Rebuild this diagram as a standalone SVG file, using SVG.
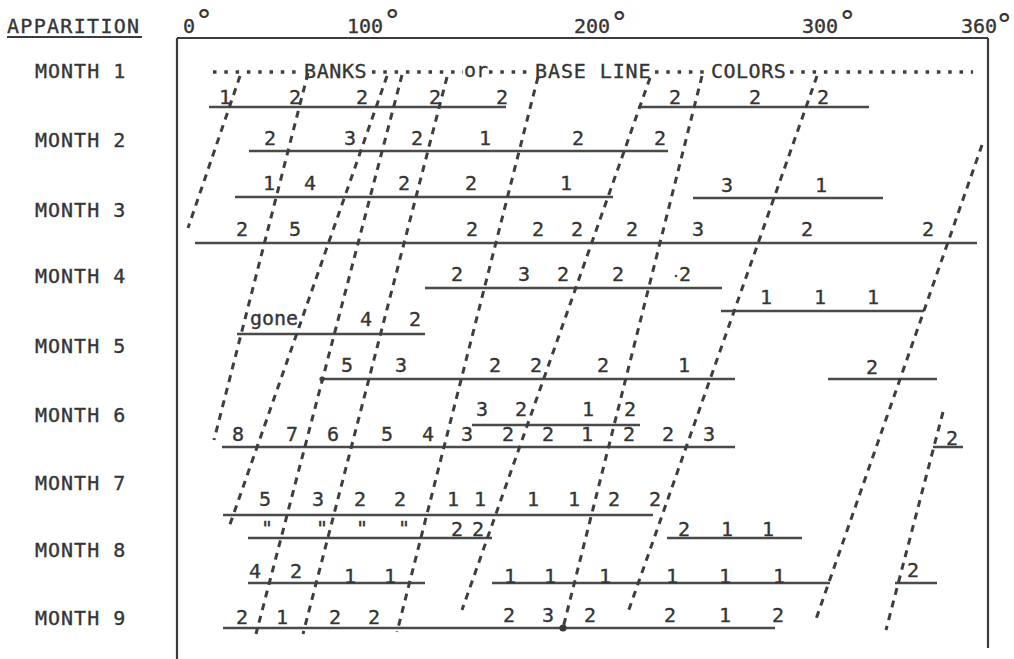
<svg xmlns="http://www.w3.org/2000/svg" width="1014" height="659" viewBox="0 0 1014 659">
<style>
text{font-family:"DejaVu Sans Mono","Liberation Mono",monospace;fill:#353535;font-size:20px;stroke:#353535;stroke-width:0.35px}
.m{letter-spacing:1px}
.c{text-anchor:middle}
.row{stroke:#4a4a4a;stroke-width:2.5;fill:none}
.frame{stroke:#3c3c3c;stroke-width:2.2;fill:none}
.dash{stroke:#3e3e3e;stroke-width:3;stroke-dasharray:7 6;fill:none}
.dot{stroke:#3e3e3e;stroke-width:3.5;stroke-dasharray:3.5 7.8;fill:none}
.deg{font-size:30px;stroke-width:0.2px}
</style>
<rect width="1014" height="659" fill="#ffffff"/>
<g id="frame">
<path class="frame" d="M177 38H988M177 38V659M988 38V648"/>
</g>
<g id="header">
<text x="7" y="33" style="letter-spacing:1.3px">APPARITION</text>
<path class="frame" d="M7 37H142"/>
<text x="183" y="33">0<tspan class="deg" dy="-2">°</tspan></text>
<text x="347" y="33">100<tspan class="deg" dy="-2">°</tspan></text>
<text x="574" y="33">200<tspan class="deg" dy="0">°</tspan></text>
<text x="802" y="33">300<tspan class="deg" dy="-1">°</tspan></text>
<text x="961" y="33">360<tspan class="deg" dy="2" dx="-2">°</tspan></text>
</g>
<g id="months">
<text class="m" x="35" y="78">MONTH 1</text>
<text class="m" x="35" y="147">MONTH 2</text>
<text class="m" x="35" y="217">MONTH 3</text>
<text class="m" x="35" y="283">MONTH 4</text>
<text class="m" x="35" y="353">MONTH 5</text>
<text class="m" x="35" y="422">MONTH 6</text>
<text class="m" x="35" y="490">MONTH 7</text>
<text class="m" x="35" y="557">MONTH 8</text>
<text class="m" x="35" y="625">MONTH 9</text>
</g>
<g id="baseline">
<path class="dot" d="M213 72H300M372 72H463M489 72H531M655 72H707M790 72H973"/>
<text x="304" y="78" style="letter-spacing:0.6px">BANKS</text>
<text class="c" x="476" y="77">or</text>
<text x="535" y="78" style="letter-spacing:0.9px">BASE LINE</text>
<text x="711" y="78" style="letter-spacing:0.5px">COLORS</text>
</g>
<g id="month1">
<path class="row" d="M209 107H506M638 107H869"/>
<text class="c" x="225" y="104">1</text><text class="c" x="295" y="104">2</text><text class="c" x="362" y="104">2</text><text class="c" x="435" y="104">2</text><text class="c" x="502" y="104">2</text>
<text class="c" x="675" y="104">2</text><text class="c" x="755" y="104">2</text><text class="c" x="823" y="104">2</text>
</g>
<g id="month2">
<path class="row" d="M249 151H668"/>
<text class="c" x="270" y="145">2</text><text class="c" x="350" y="145">3</text><text class="c" x="417" y="145">2</text><text class="c" x="485" y="145">1</text><text class="c" x="578" y="145">2</text><text class="c" x="660" y="145">2</text>
</g>
<g id="month3">
<path class="row" d="M235 197H613M693 198H883M195 243H977"/>
<text class="c" x="269" y="190">1</text><text class="c" x="310" y="190">4</text><text class="c" x="404" y="190">2</text><text class="c" x="471" y="190">2</text><text class="c" x="566" y="190">1</text>
<text class="c" x="727" y="192">3</text><text class="c" x="821" y="192">1</text>
<text class="c" x="242" y="236">2</text><text class="c" x="295" y="236">5</text><text class="c" x="472" y="236">2</text><text class="c" x="538" y="236">2</text><text class="c" x="577" y="236">2</text><text class="c" x="632" y="236">2</text><text class="c" x="698" y="236">3</text><text class="c" x="807" y="236">2</text><text class="c" x="928" y="236">2</text>
</g>
<g id="month4">
<path class="row" d="M425 288H722M721 311H924"/>
<text class="c" x="457" y="281">2</text><text class="c" x="524" y="281">3</text><text class="c" x="563" y="281">2</text><text class="c" x="618" y="281">2</text><text class="c" x="685" y="281">2</text>
<circle cx="676" cy="276" r="1.3" fill="#444"/>
<text class="c" x="766" y="304">1</text><text class="c" x="820" y="304">1</text><text class="c" x="873" y="304">1</text>
</g>
<g id="month5">
<path class="row" d="M237 334H425M322 379H735M828 379H937"/>
<circle cx="322" cy="379" r="2.6" fill="#444"/>
<text class="c" x="274" y="325">gone</text><text class="c" x="366" y="326">4</text><text class="c" x="415" y="326">2</text>
<text class="c" x="347" y="372">5</text><text class="c" x="401" y="372">3</text><text class="c" x="495" y="372">2</text><text class="c" x="536" y="372">2</text><text class="c" x="603" y="372">2</text><text class="c" x="684" y="372">1</text>
<text class="c" x="872" y="374">2</text>
</g>
<g id="month6">
<path class="row" d="M472 425H640M222 447H735M933 447H963"/>
<text class="c" x="482" y="416">3</text><text class="c" x="521" y="416">2</text><text class="c" x="588" y="416">1</text><text class="c" x="630" y="416">2</text>
<text class="c" x="238" y="441">8</text><text class="c" x="292" y="441">7</text><text class="c" x="333" y="441">6</text><text class="c" x="387" y="441">5</text><text class="c" x="428" y="441">4</text><text class="c" x="467" y="441">3</text><text class="c" x="508" y="441">2</text><text class="c" x="548" y="441">2</text><text class="c" x="587" y="441">1</text><text class="c" x="629" y="441">2</text><text class="c" x="668" y="441">2</text><text class="c" x="709" y="441">3</text>
<text class="c" x="952" y="445">2</text>
</g>
<g id="month7">
<path class="row" d="M223 515H653M248 538H492"/>
<text class="c" x="265" y="506">5</text><text class="c" x="318" y="506">3</text><text class="c" x="360" y="506">2</text><text class="c" x="400" y="506">2</text><text class="c" x="453" y="506">1</text><text class="c" x="480" y="506">1</text><text class="c" x="533" y="506">1</text><text class="c" x="574" y="506">1</text><text class="c" x="614" y="506">2</text><text class="c" x="655" y="506">2</text>
<text class="c" x="267" y="535">"</text><text class="c" x="322" y="535">"</text><text class="c" x="362" y="535">"</text><text class="c" x="404" y="535">"</text>
<text class="c" x="457" y="536">2</text><text class="c" x="478" y="536">2</text>
</g>
<g id="month8">
<path class="row" d="M667 538H802M248 583H425M492 583H830M895 583H937"/>
<text class="c" x="684" y="536">2</text><text class="c" x="727" y="536">1</text><text class="c" x="768" y="536">1</text>
<text class="c" x="255" y="578">4</text><text class="c" x="296" y="578">2</text><text class="c" x="350" y="583">1</text><text class="c" x="390" y="583">1</text>
<text class="c" x="510" y="583">1</text><text class="c" x="550" y="583">1</text><text class="c" x="605" y="583">1</text><text class="c" x="672" y="583">1</text><text class="c" x="725" y="583">1</text><text class="c" x="779" y="583">1</text>
<text class="c" x="913" y="577">2</text>
</g>
<g id="month9">
<path class="row" d="M223 628H775"/>
<circle cx="563" cy="628" r="3.6" fill="#3a3a3a"/>
<text class="c" x="242" y="624">2</text><text class="c" x="282" y="624">1</text><text class="c" x="335" y="624">2</text><text class="c" x="374" y="624">2</text><text class="c" x="509" y="622">2</text><text class="c" x="548" y="622">3</text><text class="c" x="590" y="622">2</text><text class="c" x="670" y="622">2</text><text class="c" x="725" y="622">1</text><text class="c" x="778" y="622">2</text>
</g>
<g id="connectors">
<path class="dash" d="M240 76L188 228"/>
<path class="dash" d="M308 73L214 440"/>
<path class="dash" d="M387 76L228 530"/>
<path class="dash" d="M402 75L256 634"/>
<path class="dash" d="M447 77L303 634"/>
<path class="dash" d="M538 77L397 632"/>
<path class="dash" d="M650 78L462 610"/>
<path class="dash" d="M702 76L563 628"/>
<path class="dash" d="M817 76L627 615"/>
<path class="dash" d="M982 145L815 622"/>
<path class="dash" d="M943 412L886 630"/>
</g>
</svg>
